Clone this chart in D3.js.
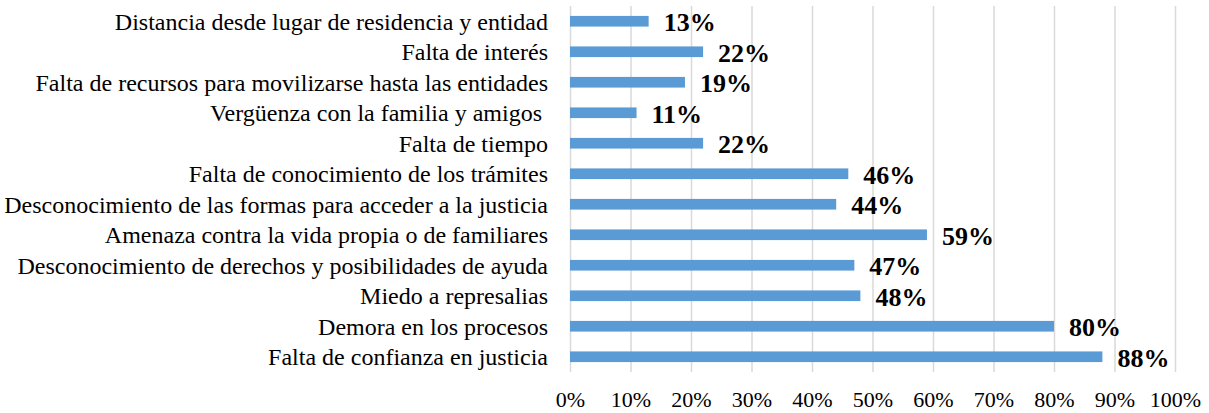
<!DOCTYPE html>
<html lang="es">
<head>
    <meta charset="UTF-8">
    <title>Razones para no acudir</title>
    <script src="https://cdn.jsdelivr.net/npm/d3@7"></script>
    <style>
      body { margin: 0; background: #fff; }
      text { font-family: "Liberation Serif", "Times New Roman", serif; }
    </style>
</head>
<body>
    <script>
      const categories = [
        "Distancia desde lugar de residencia y entidad",
        "Falta de interés",
        "Falta de recursos para movilizarse hasta las entidades",
        "Vergüenza con la familia y amigos ",
        "Falta de tiempo",
        "Falta de conocimiento de los trámites",
        "Desconocimiento de las formas para acceder a la justicia",
        "Amenaza contra la vida propia o de familiares",
        "Desconocimiento de derechos y posibilidades de ayuda",
        "Miedo a represalias",
        "Demora en los procesos",
        "Falta de confianza en justicia"
      ];
      const values = [0.13, 0.22, 0.19, 0.11, 0.22, 0.46, 0.44, 0.59, 0.47, 0.48, 0.80, 0.88];
      const tickValues = [0, 0.1, 0.2, 0.3, 0.4, 0.5, 0.6, 0.7, 0.8, 0.9, 1.0];

      const w = 1209;
      const h = 413;
      const plotLeft = 570, plotRight = 1175, plotTop = 6, plotBottom = 372;

      const xScale = d3.scaleLinear()
                       .domain([0, 1])
                       .range([plotLeft, plotRight]);

      const yScale = d3.scaleBand()
                       .domain(categories)
                       .range([plotTop, plotBottom])
                       .paddingInner(0.65)
                       .paddingOuter(0.325);

      const svg = d3.select("body")
                    .append("svg")
                    .attr("width", w)
                    .attr("height", h);

      // vertical gridlines
      svg.append("g")
         .attr("transform", `translate(0, ${plotBottom})`)
         .call(d3.axisBottom(xScale).tickValues(tickValues).tickSize(-(plotBottom - plotTop)).tickFormat(""))
         .call(g => g.select(".domain").remove())
         .call(g => g.selectAll("line").attr("stroke", "#d9d9d9").attr("stroke-width", 1.5));

      // x tick labels
      svg.append("g")
         .attr("transform", `translate(0, ${plotBottom})`)
         .call(d3.axisBottom(xScale).tickValues(tickValues).tickSize(0).tickPadding(19).tickFormat(d3.format(".0%")))
         .call(g => g.select(".domain").remove())
         .call(g => g.selectAll("text")
                     .attr("font-size", 22)
                     .attr("font-family", "Liberation Serif, serif")
                     .attr("fill", "#000"));

      // category labels
      svg.append("g")
         .selectAll("text")
         .data(categories)
         .enter()
         .append("text")
         .attr("x", plotLeft - 22)
         .attr("y", (d) => yScale(d) + yScale.bandwidth() / 2)
         .attr("dy", "0.35em")
         .attr("text-anchor", "end")
         .attr("font-size", 24)
         .style("white-space", "pre")
         .text((d) => d);

      // bars
      svg.append("g")
         .selectAll("rect")
         .data(values)
         .enter()
         .append("rect")
         .attr("x", xScale(0))
         .attr("y", (d, i) => yScale(categories[i]))
         .attr("width", (d) => xScale(d) - xScale(0))
         .attr("height", yScale.bandwidth())
         .attr("fill", "#5b9bd5");

      // value labels
      svg.append("g")
         .selectAll("text")
         .data(values)
         .enter()
         .append("text")
         .attr("x", (d) => xScale(d) + 15)
         .attr("y", (d, i) => yScale(categories[i]) + yScale.bandwidth() / 2 + 10)
         .attr("font-size", 26)
         .attr("font-weight", "bold")
         .text((d) => Math.round(d * 100) + "%");
    </script>
</body>
</html>
